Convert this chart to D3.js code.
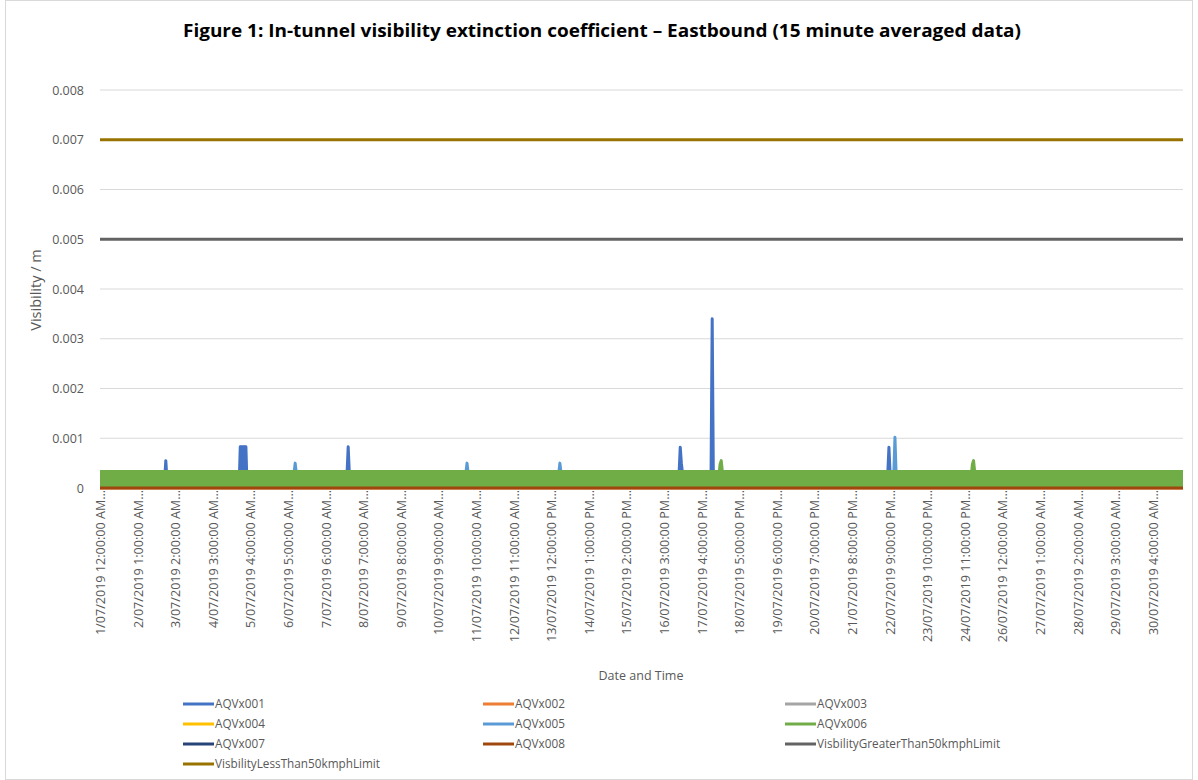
<!DOCTYPE html>
<html><head><meta charset="utf-8">
<script src="https://cdn.jsdelivr.net/npm/d3@7"></script>
<style>body{margin:0;background:#fff}svg{display:block}text{font-family:"Open Sans",sans-serif}</style>
</head><body><svg id="c" width="1198" height="780"></svg>
<script>
// ---- data ----
const totalPoints = 2880; // 30 days of 15-minute data
const yTicks = [0, 0.001, 0.002, 0.003, 0.004, 0.005, 0.006, 0.007, 0.008];
const yTickLabels = ["0","0.001","0.002","0.003","0.004","0.005","0.006","0.007","0.008"];
const xTickIndex = [0,100,200,300,400,500,600,700,800,900,1000,1100,1200,1300,1400,1500,1600,1700,1800,1900,2000,2100,2200,2300,2400,2500,2600,2700,2800];
const xTickLabels = ["1/07/2019 12:00:00 AM","2/07/2019 1:00:00 AM","3/07/2019 2:00:00 AM","4/07/2019 3:00:00 AM","5/07/2019 4:00:00 AM","6/07/2019 5:00:00 AM","7/07/2019 6:00:00 AM","8/07/2019 7:00:00 AM","9/07/2019 8:00:00 AM","10/07/2019 9:00:00 AM","11/07/2019 10:00:00 AM","12/07/2019 11:00:00 AM","13/07/2019 12:00:00 PM","14/07/2019 1:00:00 PM","15/07/2019 2:00:00 PM","16/07/2019 3:00:00 PM","17/07/2019 4:00:00 PM","18/07/2019 5:00:00 PM","19/07/2019 6:00:00 PM","20/07/2019 7:00:00 PM","21/07/2019 8:00:00 PM","22/07/2019 9:00:00 PM","23/07/2019 10:00:00 PM","24/07/2019 11:00:00 PM","26/07/2019 12:00:00 AM","27/07/2019 1:00:00 AM","28/07/2019 2:00:00 AM","29/07/2019 3:00:00 AM","30/07/2019 4:00:00 AM"];
const seriesNames = ["AQVx001","AQVx002","AQVx003","AQVx004","AQVx005","AQVx006","AQVx007","AQVx008","VisbilityGreaterThan50kmphLimit","VisbilityLessThan50kmphLimit"];
const seriesColors = ["#4472C4","#ED7D31","#A5A5A5","#FFC000","#5B9BD5","#70AD47","#264478","#9E480E","#636363","#997300"];
// [index, value] points (baseline ~0.0003 between events)
const aqv001 = [[0,0.0003],[173,0.0003],[175,0.00055],[177,0.0003],[371,0.0003],[373,0.00083],[374,0.0003],[375,0.00083],[376,0.0003],[377,0.00083],[378,0.0003],[379,0.00083],[380,0.0003],[381,0.00083],[382,0.0003],[383,0.00083],[384,0.0003],[385,0.00083],[386,0.0003],[387,0.00083],[388,0.00083],[390,0.0003],[657,0.0003],[660,0.00083],[663,0.0003],[1540,0.0003],[1543,0.00082],[1546,0.0005],[1549,0.0003],[1625,0.0003],[1628,0.0034],[1631,0.0003],[2095,0.0003],[2098,0.00082],[2101,0.0003],[2880,0.0003]];
const aqv002 = [[0,0],[2880,0]];
const aqv003 = [[0,0.0002],[2880,0.0002]];
const aqv004 = [[0,0.0002],[2880,0.0002]];
const aqv005 = [[0,0.0003],[516,0.0003],[519,0.0005],[522,0.0003],[973,0.0003],[976,0.0005],[979,0.0003],[1220,0.0003],[1223,0.0005],[1226,0.0003],[2111,0.0003],[2114,0.00102],[2117,0.0003],[2880,0.0003]];
const aqv006Low = [[0,0],[2880,0]];
const aqv006High = [[0,0.00033],[2880,0.00033]];
const aqv006 = [[0,0.00033],[1647,0.00033],[1649,0.00048],[1652,0.00055],[1655,0.00033],[2318,0.00033],[2320,0.00048],[2323,0.00055],[2326,0.00033],[2880,0.00033]];
const aqv007 = [[0,0],[2880,0]];
const aqv008 = [[0,0],[2880,0]];
const limitGreater = [[0,0.005],[2880,0.005]];
const limitLess = [[0,0.007],[2880,0.007]];

// ---- chart ----
const svg = d3.select("#c");
svg.append("rect").attr("x",5.5).attr("y",0.5).attr("width",1187).attr("height",779)
  .attr("fill","#fff").attr("stroke","#d9d9d9");

const x = d3.scaleLinear().domain([0,totalPoints]).range([100,1183]);
const y = d3.scaleLinear().domain([0,0.008]).range([488,90]);

svg.append("text").attr("x",602).attr("y",37).attr("text-anchor","middle")
  .attr("font-size",17).attr("font-weight",700).attr("fill","#000")
  .attr("textLength",838).attr("lengthAdjust","spacingAndGlyphs")
  .text("Figure 1: In-tunnel visibility extinction coefficient \u2013 Eastbound (15 minute averaged data)");

// grid
svg.append("g").selectAll("line").data(yTicks.slice(1)).join("line")
  .attr("x1",x(0)).attr("x2",x(totalPoints)).attr("y1",d=>y(d)).attr("y2",d=>y(d))
  .attr("stroke","#d9d9d9").attr("stroke-width",1);

// y axis
const yAxis = d3.axisLeft(y).tickValues(yTicks).tickSize(0).tickPadding(0)
  .tickFormat((d,i)=>yTickLabels[i]);
const gy = svg.append("g").attr("transform","translate(84,0)").call(yAxis);
gy.select(".domain").remove();
gy.selectAll("text").attr("font-size",12.5).attr("fill","#595959").attr("font-family","Open Sans");

svg.append("text").attr("transform","translate(41,290) rotate(-90)").attr("text-anchor","middle")
  .attr("font-size",14.5).attr("fill","#595959").text("Visibility / m");

// x axis labels
const xAxis = d3.axisBottom(x).tickValues(xTickIndex).tickSize(0).tickPadding(0)
  .tickFormat((d,i)=>xTickLabels[i]+"\u2026");
const gx = svg.append("g").attr("transform","translate(0,490)").call(xAxis);
gx.select(".domain").remove();
gx.selectAll("text").attr("font-size",12.6).attr("fill","#595959").attr("font-family","Open Sans")
  .attr("text-anchor","end").attr("y",0)
  .attr("transform","rotate(-90)").attr("x",0).attr("dy","0.35em");

svg.append("text").attr("x",641).attr("y",680).attr("text-anchor","middle")
  .attr("font-size",12.5).attr("fill","#595959").text("Date and Time");

// series
const line = d3.line().x(d=>x(d[0])).y(d=>y(d[1]));
const plot = svg.append("g");
function drawLine(data, color, w){
  plot.append("path").datum(data).attr("d",line).attr("fill","none")
    .attr("stroke",color).attr("stroke-width",w).attr("stroke-linejoin","round").attr("stroke-linecap","butt");
}
drawLine(aqv001, seriesColors[0], 3);
drawLine(aqv002, seriesColors[1], 3);
drawLine(aqv003, seriesColors[2], 3);
drawLine(aqv004, seriesColors[3], 3);
drawLine(aqv005, seriesColors[4], 3);
const area = d3.area().x(d=>x(d[0])).y0((d,i)=>y(aqv006Low[i][1])).y1(d=>y(d[1]));
plot.append("path").datum(aqv006High).attr("d",area).attr("fill",seriesColors[5]);
drawLine(aqv006, seriesColors[5], 3);
drawLine(aqv007, seriesColors[6], 2);
drawLine(aqv008, seriesColors[7], 3);
drawLine(limitGreater, seriesColors[8], 3);
drawLine(limitLess, seriesColors[9], 3);

// legend
const legCols = [183,483,785], legRows = [704,724,744,764];
const leg = svg.append("g").selectAll("g").data(seriesNames).join("g")
  .attr("transform",(d,i)=>`translate(${legCols[i%3]},${legRows[Math.floor(i/3)]})`);
leg.append("line").attr("x1",0).attr("x2",31).attr("y1",0).attr("y2",0)
  .attr("stroke",(d,i)=>seriesColors[i]).attr("stroke-width",3);
leg.append("text").attr("transform","translate(32,0) scale(0.94,1)").attr("dy","0.35em")
  .attr("font-size",12.5).attr("fill","#595959").text(d=>d);
</script></body></html>
